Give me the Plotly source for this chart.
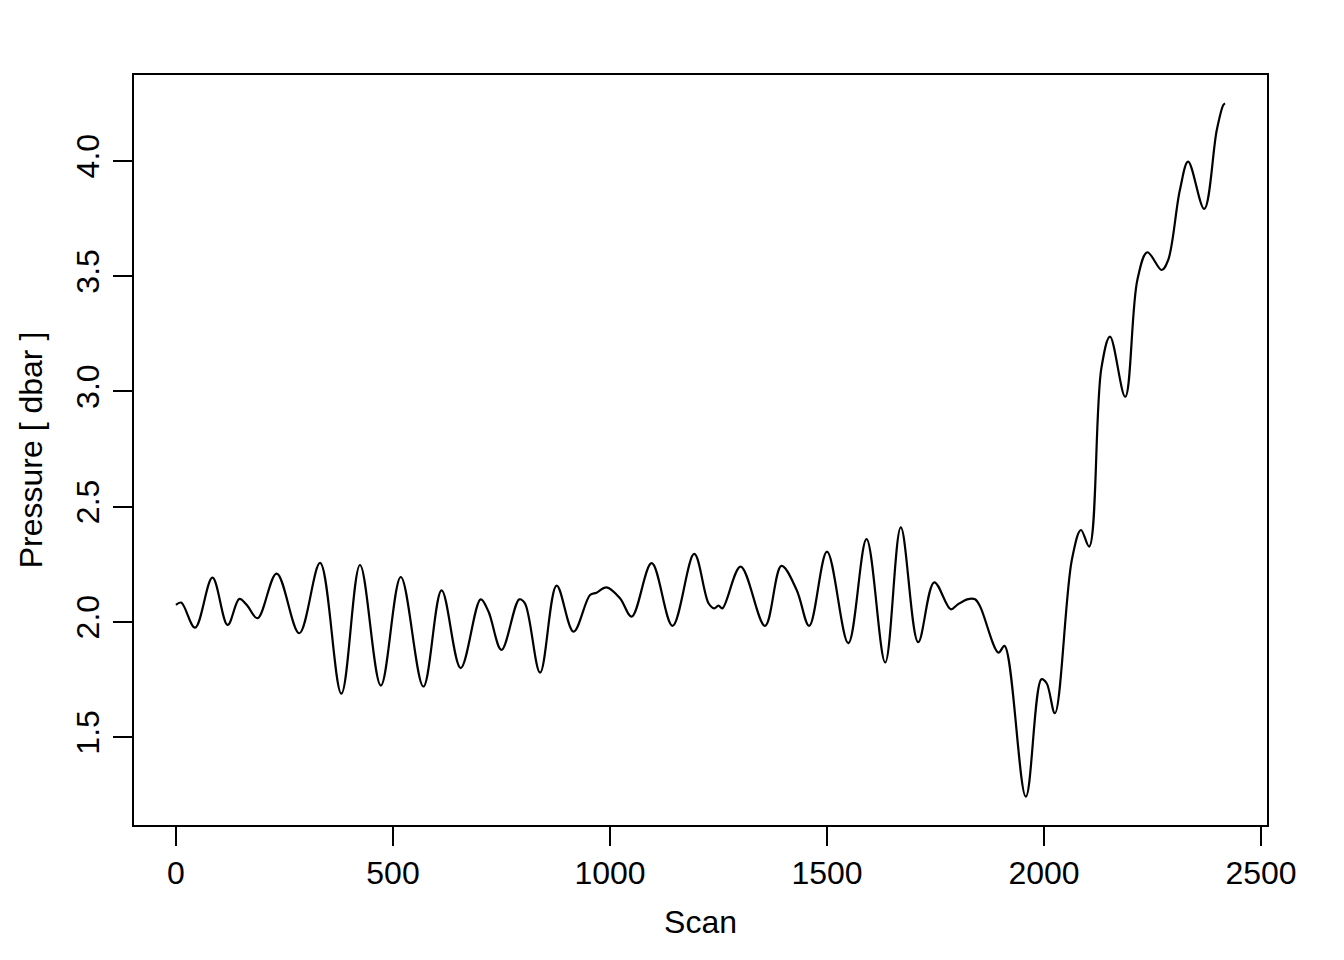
import plotly.graph_objects as go

scan = [0, 12, 44, 84, 119, 146, 163, 188, 232, 284, 332, 381, 424, 472, 518, 570,
        612, 656, 702, 720, 750, 791, 804, 839, 877, 916, 954, 969, 992, 1023, 1050,
        1096, 1144, 1194, 1227, 1240, 1250, 1259, 1301, 1357, 1395, 1430, 1459, 1500,
        1549, 1591, 1634, 1670, 1710, 1747, 1785, 1800, 1823, 1841, 1853, 1895, 1909,
        1958, 1994, 2006, 2025, 2064, 2085, 2104, 2132, 2152, 2187, 2215, 2238, 2271,
        2286, 2313, 2332, 2369, 2398, 2413, 2417]
pressure = [2.074, 2.084, 1.975, 2.192, 1.987, 2.10, 2.074, 2.016, 2.21, 1.951, 2.256,
            1.689, 2.247, 1.724, 2.195, 1.72, 2.137, 1.80, 2.098, 2.045, 1.879, 2.098,
            2.081, 1.78, 2.158, 1.958, 2.117, 2.127, 2.15, 2.103, 2.023, 2.255, 1.983,
            2.295, 2.081, 2.059, 2.071, 2.059, 2.24, 1.983, 2.243, 2.139, 1.983, 2.305,
            1.908, 2.359, 1.824, 2.41, 1.912, 2.172, 2.055, 2.074, 2.098, 2.098, 2.066,
            1.867, 1.896, 1.242, 1.751, 1.734, 1.604, 2.269, 2.399, 2.327, 3.10, 3.238,
            2.977, 3.484, 3.604, 3.527, 3.57, 3.874, 3.997, 3.792, 4.134, 4.243, 4.25]

x_ticks = [0, 500, 1000, 1500, 2000, 2500]
y_ticks = [1.5, 2.0, 2.5, 3.0, 3.5, 4.0]
y_tick_labels = ["1.5", "2.0", "2.5", "3.0", "3.5", "4.0"]

FONT = "Liberation Sans, Arial, sans-serif"

fig = go.Figure()
fig.add_trace(go.Scatter(
    x=scan, y=pressure, mode="lines",
    line=dict(color="black", width=2.2, shape="spline", smoothing=1.0),
    showlegend=False, hoverinfo="skip",
))

axis_common = dict(
    showgrid=False, zeroline=False,
    showline=True, mirror=True, linecolor="black", linewidth=2,
    ticks="outside", ticklen=19, tickwidth=2, tickcolor="black",
    tickfont=dict(family=FONT, size=32, color="black"),
)

fig.update_layout(
    width=1336, height=952,
    paper_bgcolor="white", plot_bgcolor="white",
    margin=dict(l=126, r=77, t=67, b=135),
    font=dict(family=FONT, size=32, color="black"),
    xaxis=dict(
        range=[-96.7, 2513.7], tickvals=x_ticks,
        ticktext=[str(v) for v in x_ticks],
        title=dict(text="Scan", font=dict(family=FONT, size=32), standoff=20),
        ticklabelstandoff=0,
        **axis_common,
    ),
    yaxis=dict(
        range=[1.119, 4.373], tickvals=y_ticks, ticktext=y_tick_labels,
        tickangle=-90,
        title=dict(text="Pressure [ dbar ]", font=dict(family=FONT, size=32), standoff=18),
        ticklabelstandoff=1,
        **axis_common,
    ),
)

fig.write_html("out.html")
